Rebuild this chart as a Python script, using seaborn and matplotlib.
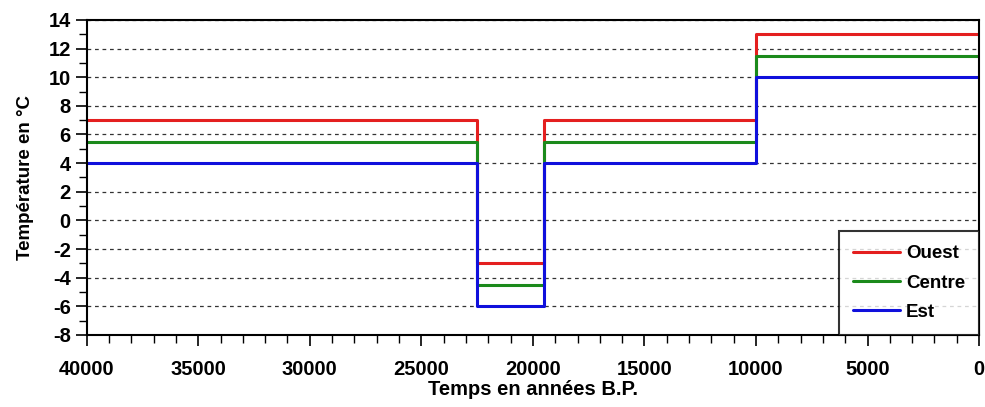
import matplotlib
matplotlib.use("Agg")
import matplotlib.pyplot as plt
from matplotlib.ticker import MultipleLocator
import seaborn as sns
import pandas as pd

# breakpoints (years B.P.) and temperature held from each breakpoint onward
temps_bp = [40000, 22500, 19500, 10000, 0]
ouest = [7, -3, 7, 13, 13]
centre = [5.5, -4.5, 5.5, 11.5, 11.5]
est = [4, -6, 4, 10, 10]

series = {"Ouest": ouest, "Centre": centre, "Est": est}
colors = {"Ouest": "#e41f1f", "Centre": "#1b8a1b", "Est": "#1010dc"}

rows = []
for name, vals in series.items():
    for x, y in zip(temps_bp, vals):
        rows.append({"temps": x, "temp": y, "zone": name})
df = pd.DataFrame(rows)

sns.set_style("white")
plt.rcParams["font.family"] = ["Liberation Sans", "DejaVu Sans"]
plt.rcParams["font.weight"] = "bold"
plt.rcParams["axes.unicode_minus"] = False
for key in ["text.color", "axes.labelcolor", "xtick.color", "ytick.color"]:
    plt.rcParams[key] = "black"

fig = plt.figure(figsize=(9.85, 4.07), dpi=100)
ax = fig.add_axes([0.088, 0.177, 0.906, 0.774])

for name in series:
    sns.lineplot(data=df[df.zone == name], x="temps", y="temp", ax=ax,
                 color=colors[name], lw=2.2, sort=False, estimator=None,
                 drawstyle="steps-post", label=name)

ax.set_xlim(40000, 0)
ax.set_ylim(-8, 14)
ax.xaxis.set_major_locator(MultipleLocator(5000))
ax.xaxis.set_minor_locator(MultipleLocator(1000))
ax.yaxis.set_major_locator(MultipleLocator(2))
ax.yaxis.set_minor_locator(MultipleLocator(1))
ax.tick_params(which="major", direction="out", length=8, width=1.2,
               labelsize=14.5, bottom=True, left=True, color="black",
               labelcolor="black")
ax.tick_params(axis="x", which="major", pad=10)
ax.tick_params(which="minor", direction="out", length=6, width=1.0,
               bottom=True, left=True, color="black")
for lab in ax.get_xticklabels() + ax.get_yticklabels():
    lab.set_fontweight("bold")

ax.yaxis.grid(True, which="major", linestyle=(0, (3, 3)), color="#333333", lw=0.9)
ax.xaxis.grid(False)
for sp in ax.spines.values():
    sp.set_color("black")
    sp.set_linewidth(1.5)

ax.set_xlabel("Temps en années B.P.", fontsize=14.5, fontweight="bold",
              labelpad=1, color="black")
ax.set_ylabel("Température en °C", fontsize=13.5, fontweight="bold",
              labelpad=10, color="black")

leg = ax.legend(loc="lower right", borderaxespad=0, fontsize=13.5,
                frameon=True, fancybox=False, handlelength=2.5,
                handletextpad=0.3, labelspacing=0.65, borderpad=0.75)
leg.get_frame().set_edgecolor("black")
leg.get_frame().set_linewidth(1.5)
for t in leg.get_texts():
    t.set_fontweight("bold")
    t.set_color("black")

fig.savefig("out.png", dpi=100)
